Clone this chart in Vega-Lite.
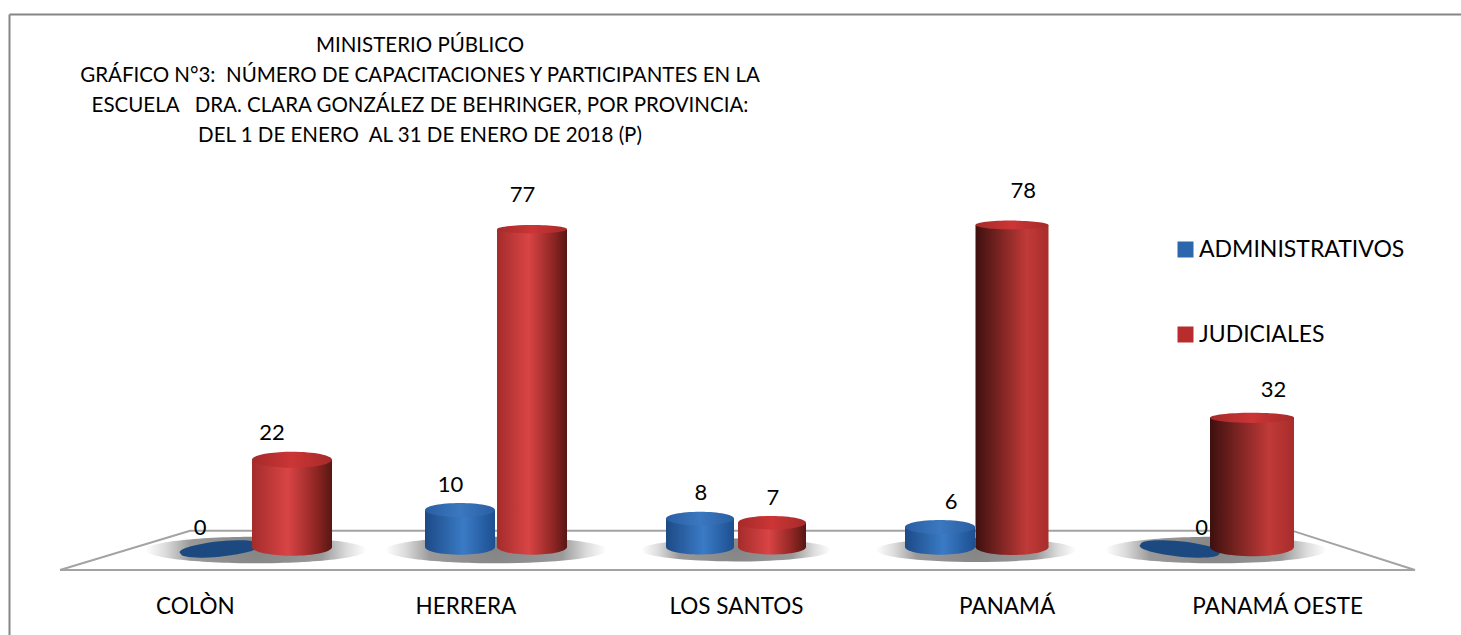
{
"$schema":"https://vega.github.io/schema/vega-lite/v6.json",
"autosize":"none","width":1452,"height":621,
"padding":{"left":9,"top":14,"right":0,"bottom":0},
"background":"white",
"config":{"view":{"stroke":null},"font":"Lato"},
"title":{"text":["MINISTERIO PÚBLICO","GRÁFICO N°3: \u00a0NÚMERO DE CAPACITACIONES Y PARTICIPANTES EN LA","ESCUELA \u00a0 DRA. CLARA GONZÁLEZ DE BEHRINGER, POR PROVINCIA:","DEL 1 DE ENERO \u00a0AL 31 DE ENERO DE 2018 (P)"],
"anchor":"start","frame":"group","align":"center","baseline":"middle","dx":411,"dy":143,"offset":0,"fontSize":20.5,"fontWeight":"normal","font":"Lato","lineHeight":30.3,"color":"#000000"},
"data":{"values":[
{"provincia":"COLÒN","tipo":"ADMINISTRATIVOS","valor":0},
{"provincia":"HERRERA","tipo":"ADMINISTRATIVOS","valor":10},
{"provincia":"LOS SANTOS","tipo":"ADMINISTRATIVOS","valor":8},
{"provincia":"PANAMÁ","tipo":"ADMINISTRATIVOS","valor":6},
{"provincia":"PANAMÁ OESTE","tipo":"ADMINISTRATIVOS","valor":0},
{"provincia":"COLÒN","tipo":"JUDICIALES","valor":22},
{"provincia":"HERRERA","tipo":"JUDICIALES","valor":77},
{"provincia":"LOS SANTOS","tipo":"JUDICIALES","valor":7},
{"provincia":"PANAMÁ","tipo":"JUDICIALES","valor":78},
{"provincia":"PANAMÁ OESTE","tipo":"JUDICIALES","valor":32}
]},
"resolve":{"scale":{"x":"independent","y":"independent","xOffset":"independent","color":"independent","size":"independent","shape":"independent"},"axis":{"x":"independent","y":"independent"}},
"layer":[
{"data":{"values":[{"px":3.51,"py":10.47,"orden":1},{"px":12.47,"py":16.8,"orden":2},{"px":88.36,"py":16.8,"orden":3},{"px":96.83,"py":10.47,"orden":4},{"px":3.51,"py":10.47,"orden":5}]},
"mark":{"type":"line","color":"#a3a3a3","strokeWidth":2},
"encoding":{"x":{"field":"px","type":"quantitative","scale":{"domain":[0,100],"nice":false},"axis":{"orient":"top","title":null,"labels":false,"ticks":false,"grid":false,"domainColor":"#868686","domainWidth":2}},
"y":{"field":"py","type":"quantitative","scale":{"domain":[0,100],"nice":false},"axis":{"orient":"left","title":null,"labels":false,"ticks":false,"grid":false,"domainColor":"#868686","domainWidth":2}},
"order":{"field":"orden","type":"quantitative"}}},
{"transform":[{"filter":"datum.tipo==='JUDICIALES'"}],
"mark":{"type":"point","filled":true,"opacity":1,"shape":"M-1,0A1,0.12 0 1 1 1,0A1,0.12 0 1 1 -1,0Z","yOffset":3,
"color":{"gradient":"radial","x1":0.5,"y1":0.5,"r1":0,"x2":0.5,"y2":0.5,"r2":0.5,"stops":[{"offset":0,"color":"#858585"},{"offset":0.6,"color":"#9a9a9a"},{"offset":0.82,"color":"#dcdcdc"},{"offset":1,"color":"#ffffff"}]}},
"encoding":{"x":{"field":"provincia","type":"nominal","sort":null,"axis":null,"scale":{"type":"band","range":[127,1327],"paddingInner":0,"paddingOuter":0}},
"y":{"datum":0,"type":"quantitative","axis":null,"scale":{"domain":[1.2,78],"range":[533,211],"clamp":true,"nice":false,"zero":false}},
"size":{"condition":[{"test":"datum.provincia==='LOS SANTOS'","value":36000},{"test":"datum.provincia==='PANAMÁ'","value":40000}],"value":49000}}},
{"transform":[{"filter":"datum.valor===0"}],
"mark":{"type":"point","filled":true,"opacity":1,"color":"#1c4a80"},
"encoding":{"x":{"field":"provincia","type":"nominal","sort":null,"axis":null,"scale":{"type":"band","domain":["COLÒN","HERRERA","LOS SANTOS","PANAMÁ","PANAMÁ OESTE"],"range":[127,1327],"paddingInner":0,"paddingOuter":0}},
"xOffset":{"field":"tipo","type":"nominal","scale":{"domain":["ADMINISTRATIVOS","JUDICIALES"],"range":[84,156],"padding":0}},
"y":{"field":"valor","type":"quantitative","axis":null,"scale":{"domain":[1.2,78],"range":[535,216],"clamp":true,"nice":false,"zero":false}},
"size":{"value":6400},
"shape":{"condition":{"test":"datum.provincia==='COLÒN'","value":"M-0.98,0.12A1,0.17 -6 1 1 0.98,-0.12A1,0.17 -6 1 1 -0.98,0.12Z"},"value":"M-0.98,-0.12A1,0.17 6 1 1 0.98,0.12A1,0.17 6 1 1 -0.98,-0.12Z"}}},
{"transform":[{"filter":"datum.valor>0"}],
"mark":{"type":"point","filled":true,"opacity":1,"shape":"M-1,0A1,0.22 0 1 1 1,0A1,0.22 0 1 1 -1,0Z"},
"encoding":{"x":{"field":"provincia","type":"nominal","axis":null,"scale":{"type":"band","domain":["COLÒN","HERRERA","LOS SANTOS","PANAMÁ","PANAMÁ OESTE"],"range":[127,1327],"paddingInner":0,"paddingOuter":0}},
"xOffset":{"field":"tipo","type":"nominal","scale":{"domain":["ADMINISTRATIVOS","JUDICIALES"],"range":[84,156],"padding":0}},
"y":{"datum":0,"type":"quantitative","axis":null,"scale":{"domain":[1.2,78],"range":[533,211],"clamp":true,"nice":false,"zero":false}},
"size":{"condition":[{"test":"datum.provincia==='COLÒN'","value":6400},{"test":"datum.provincia==='PANAMÁ OESTE'","value":7056},{"test":"datum.provincia==='LOS SANTOS'","value":4624},{"test":"datum.provincia==='PANAMÁ'&&datum.tipo==='JUDICIALES'","value":5329}],"value":4900},
"color":{"condition":[{"test":"datum.tipo==='ADMINISTRATIVOS'","value":{"gradient":"linear","x1":0,"y1":0,"x2":1,"y2":0,"stops":[{"offset":0,"color":"#1d4a86"},{"offset":0.55,"color":"#3a7bc6"},{"offset":1,"color":"#1d4f90"}]}},{"test":"datum.provincia==='PANAMÁ'||datum.provincia==='PANAMÁ OESTE'","value":{"gradient":"linear","x1":0,"y1":0,"x2":1,"y2":0,"stops":[{"offset":0,"color":"#3d100e"},{"offset":0.7,"color":"#c03a38"},{"offset":1,"color":"#a82d2b"}]}}],"value":{"gradient":"linear","x1":0,"y1":0,"x2":1,"y2":0,"stops":[{"offset":0,"color":"#a42c2b"},{"offset":0.45,"color":"#d94445"},{"offset":0.8,"color":"#8f2624"},{"offset":1,"color":"#571714"}]}}}},
{"transform":[{"filter":"datum.valor>0"}],
"mark":{"type":"bar"},
"encoding":{"x":{"field":"provincia","type":"nominal","axis":null,"scale":{"type":"band","domain":["COLÒN","HERRERA","LOS SANTOS","PANAMÁ","PANAMÁ OESTE"],"range":[127,1327],"paddingInner":0,"paddingOuter":0}},
"xOffset":{"field":"tipo","type":"nominal","scale":{"domain":["ADMINISTRATIVOS","JUDICIALES"],"range":[48,192],"paddingInner":0,"paddingOuter":0}},
"y":{"field":"valor","type":"quantitative","axis":null,"stack":null,"scale":{"domain":[1.2,78],"range":[533,211],"clamp":true,"nice":false,"zero":false}},
"y2":{"datum":0},
"size":{"condition":[{"test":"datum.provincia==='COLÒN'","value":80},{"test":"datum.provincia==='PANAMÁ OESTE'","value":84},{"test":"datum.provincia==='LOS SANTOS'","value":68},{"test":"datum.provincia==='PANAMÁ'&&datum.tipo==='JUDICIALES'","value":73}],"value":70},
"color":{"condition":[{"test":"datum.tipo==='ADMINISTRATIVOS'","value":{"gradient":"linear","x1":0,"y1":0,"x2":1,"y2":0,"stops":[{"offset":0,"color":"#1d4a86"},{"offset":0.55,"color":"#3a7bc6"},{"offset":1,"color":"#1d4f90"}]}},{"test":"datum.provincia==='PANAMÁ'||datum.provincia==='PANAMÁ OESTE'","value":{"gradient":"linear","x1":0,"y1":0,"x2":1,"y2":0,"stops":[{"offset":0,"color":"#3d100e"},{"offset":0.7,"color":"#c03a38"},{"offset":1,"color":"#a82d2b"}]}}],"value":{"gradient":"linear","x1":0,"y1":0,"x2":1,"y2":0,"stops":[{"offset":0,"color":"#a42c2b"},{"offset":0.45,"color":"#d94445"},{"offset":0.8,"color":"#8f2624"},{"offset":1,"color":"#571714"}]}}}},
{"transform":[{"filter":"datum.valor>0"}],
"mark":{"type":"point","filled":true,"opacity":1},
"encoding":{"x":{"field":"provincia","type":"nominal","axis":null,"scale":{"type":"band","domain":["COLÒN","HERRERA","LOS SANTOS","PANAMÁ","PANAMÁ OESTE"],"range":[127,1327],"paddingInner":0,"paddingOuter":0}},
"xOffset":{"field":"tipo","type":"nominal","scale":{"domain":["ADMINISTRATIVOS","JUDICIALES"],"range":[84,156],"padding":0}},
"y":{"field":"valor","type":"quantitative","axis":null,"scale":{"domain":[1.2,78],"range":[533,211],"clamp":true,"nice":false,"zero":false}},
"size":{"condition":[{"test":"datum.provincia==='COLÒN'","value":6400},{"test":"datum.provincia==='PANAMÁ OESTE'","value":7056},{"test":"datum.provincia==='LOS SANTOS'","value":4624},{"test":"datum.provincia==='PANAMÁ'&&datum.tipo==='JUDICIALES'","value":5329}],"value":4900},
"shape":{"condition":{"test":"datum.valor>=32","value":"M-1,0A1,0.12 0 1 1 1,0A1,0.12 0 1 1 -1,0Z"},"value":"M-1,0A1,0.2 0 1 1 1,0A1,0.2 0 1 1 -1,0Z"},
"color":{"condition":{"test":"datum.tipo==='ADMINISTRATIVOS'","value":{"gradient":"linear","x1":0,"y1":0,"x2":1,"y2":0,"stops":[{"offset":0,"color":"#2a5ea3"},{"offset":0.5,"color":"#3b78bf"},{"offset":1,"color":"#2a5ea3"}]}},"value":{"gradient":"linear","x1":0,"y1":0,"x2":1,"y2":0,"stops":[{"offset":0,"color":"#a52a2a"},{"offset":0.5,"color":"#cc3535"},{"offset":1,"color":"#a52a2a"}]}}}},
{"mark":{"type":"text","font":"Lato","fontSize":22,"baseline":"middle","color":"#000000"},
"encoding":{"x":{"field":"provincia","type":"nominal","axis":null,"scale":{"type":"band","domain":["COLÒN","HERRERA","LOS SANTOS","PANAMÁ","PANAMÁ OESTE"],"range":[102,1354],"paddingInner":0,"paddingOuter":0}},
"xOffset":{"field":"tipo","type":"nominal","scale":{"domain":["ADMINISTRATIVOS","JUDICIALES"],"range":[89,161],"padding":0}},
"y":{"field":"valor","type":"quantitative","axis":null,"scale":{"domain":[0,78],"range":[514,177],"nice":false}},
"text":{"field":"valor","type":"quantitative"}}},
{"mark":{"type":"square","size":0},
"encoding":{"x":{"field":"provincia","type":"nominal","scale":{"type":"band","domain":["COLÒN","HERRERA","LOS SANTOS","PANAMÁ","PANAMÁ OESTE"],"range":[51,1404],"paddingInner":0,"paddingOuter":0},
"axis":{"orient":"bottom","title":null,"offset":-29,"labelAngle":0,"labelFont":"Lato","labelFontSize":22.5,"labelColor":"#000000","labelPadding":0,"labelBaseline":"middle","ticks":false,"domain":false,"grid":false}},
"color":{"field":"tipo","type":"nominal","scale":{"domain":["ADMINISTRATIVOS","JUDICIALES"],"range":["#2c66ad","#b92c2d"]},
"legend":{"title":null,"orient":"none","legendX":1165,"legendY":224,"symbolType":"square","symbolSize":256,"symbolOpacity":1,"symbolStrokeWidth":0,"labelFont":"Lato","labelFontSize":23,"labelColor":"#000000","labelOffset":2,"rowPadding":61,"padding":0,"labelLimit":400}}}}
]
}
